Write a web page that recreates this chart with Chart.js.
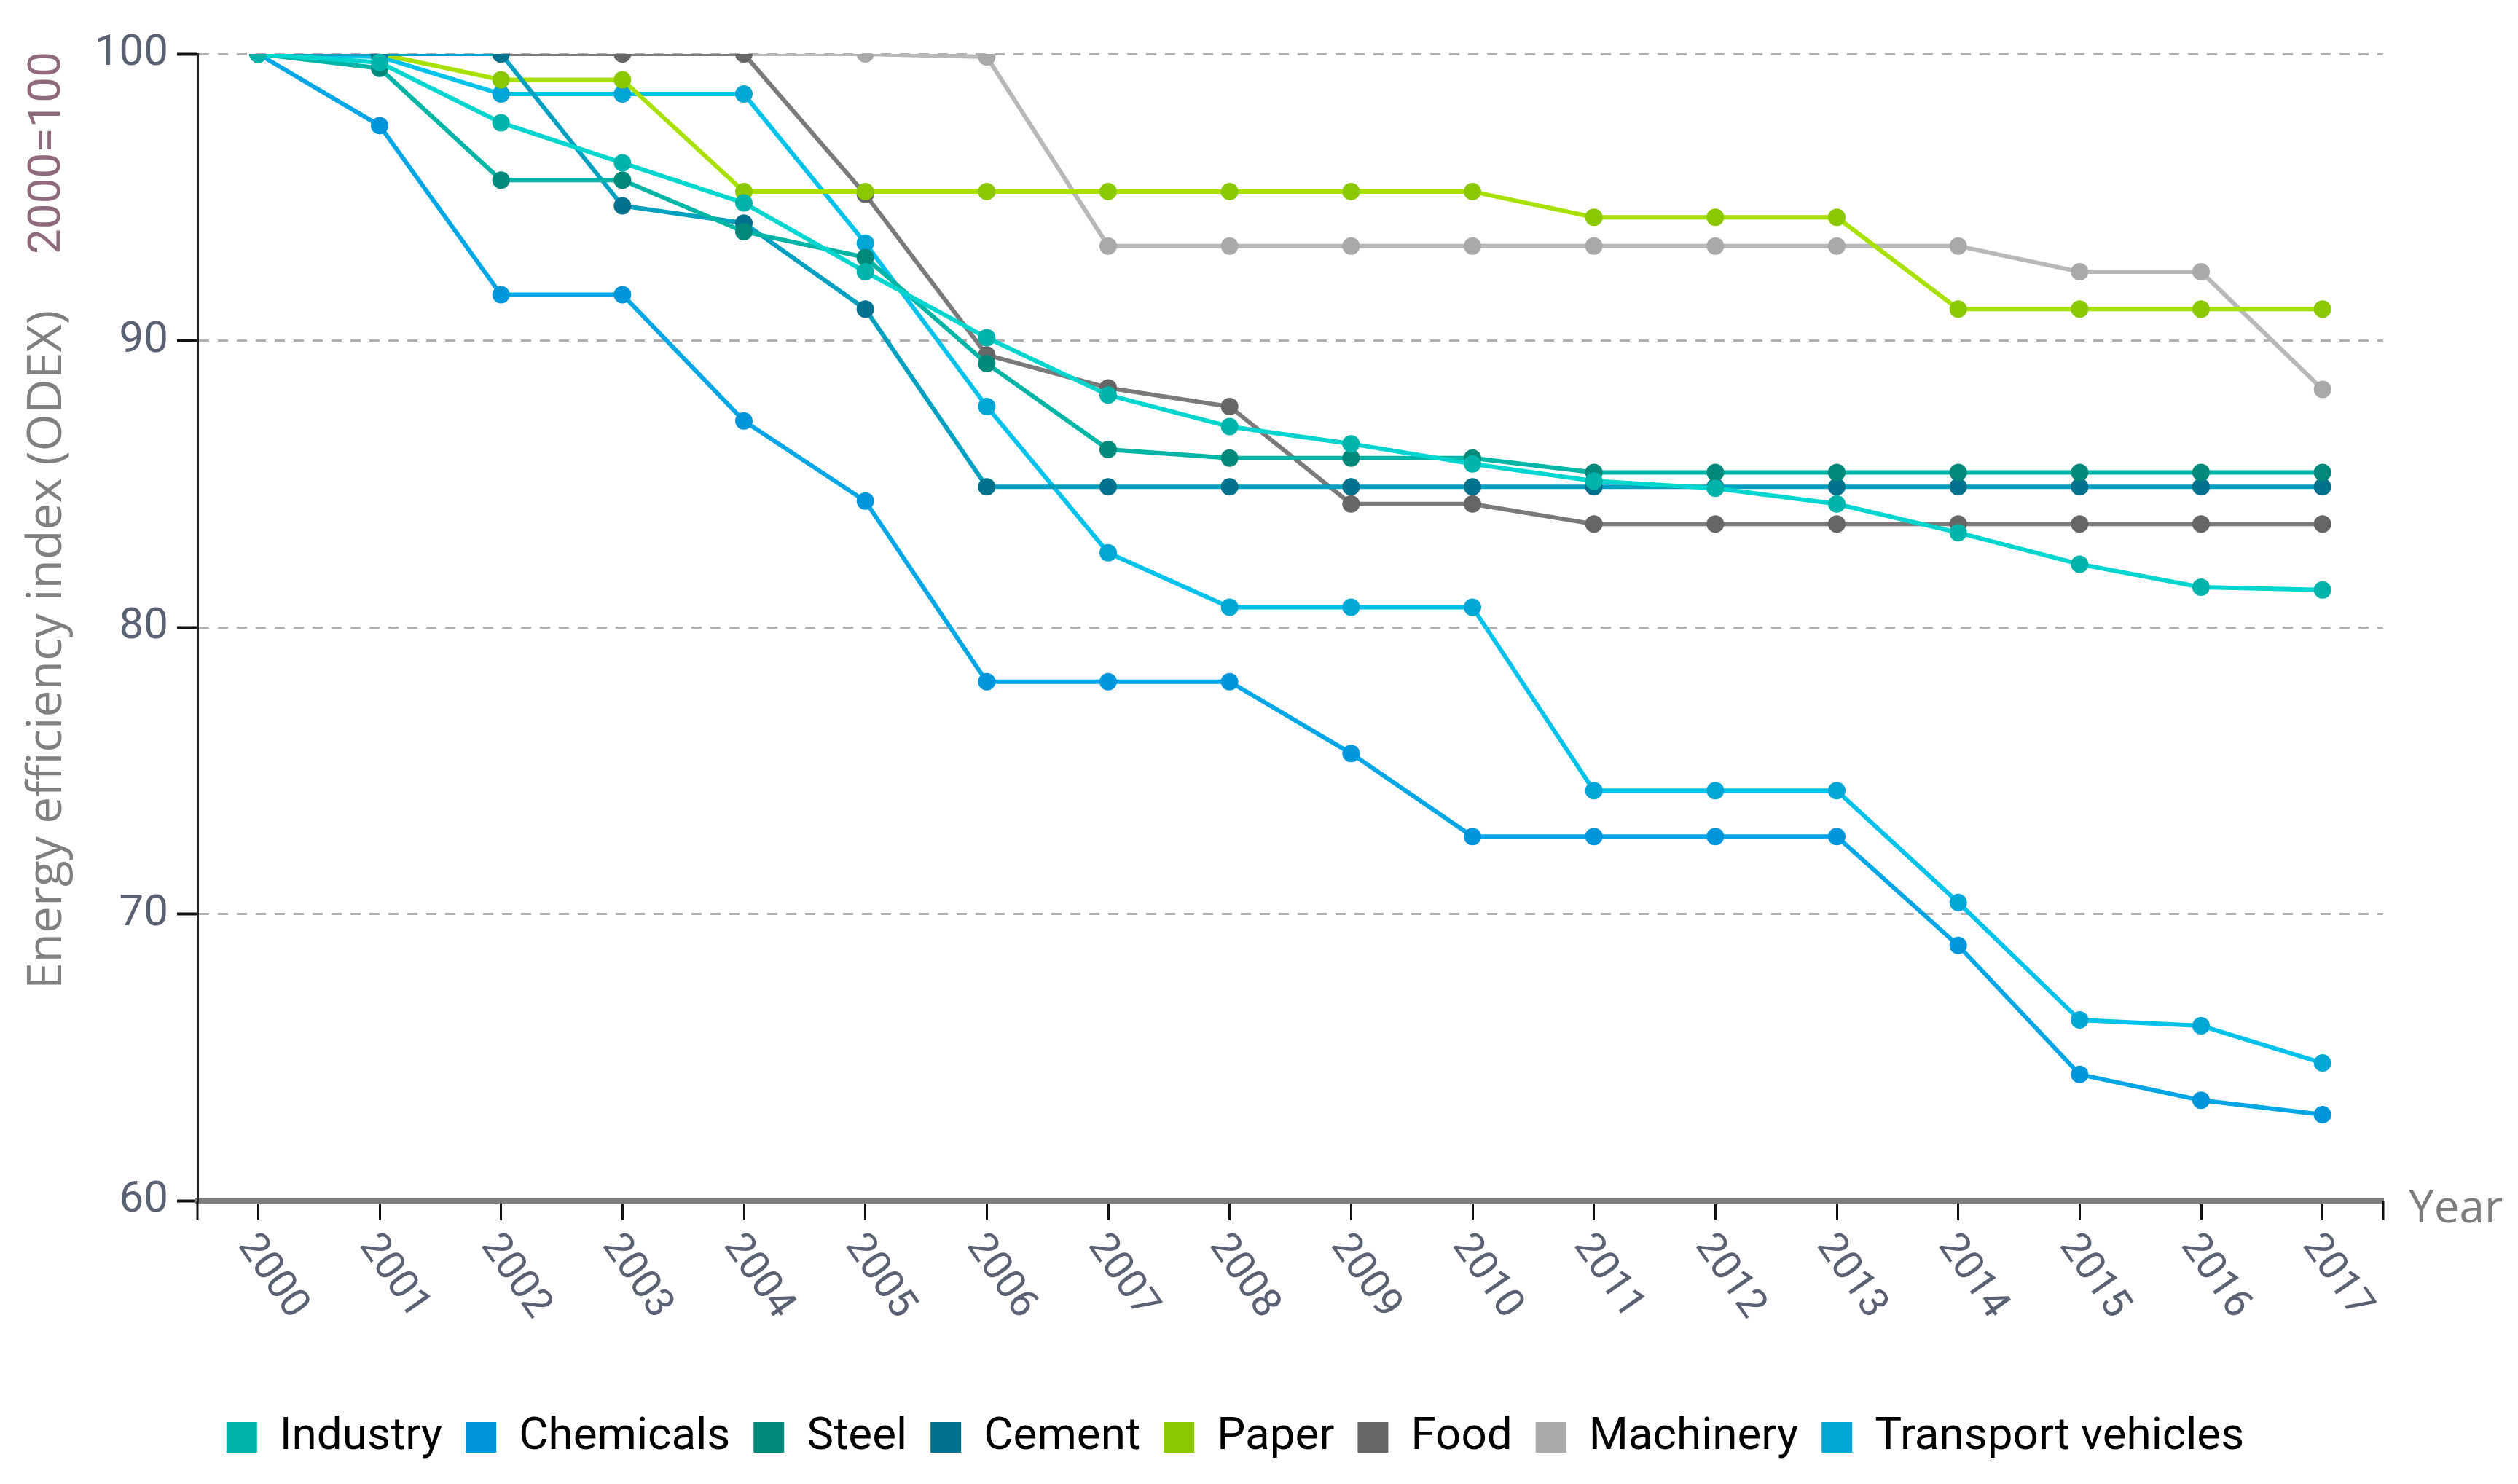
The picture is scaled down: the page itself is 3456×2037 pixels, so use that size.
<!DOCTYPE html>
<html>
<head>
<meta charset="utf-8">
<title>ODEX by branch</title>
<script src="https://cdn.jsdelivr.net/npm/chart.js@4.4.1/dist/chart.umd.min.js"></script>
<style>
  html, body { margin: 0; padding: 0; background: #fff; }
  #wrap { width: 3456px; height: 2037px; }
</style>
</head>
<body>
<div id="wrap"><canvas id="odexChart"></canvas></div>
<script>
// ---- Data ----
const years = ['2000', '2001', '2002', '2003', '2004', '2005', '2006', '2007', '2008',
               '2009', '2010', '2011', '2012', '2013', '2014', '2015', '2016', '2017'];

const industry  = [100, 99.7, 97.6, 96.2, 94.8, 92.4, 90.1, 88.1, 87.0, 86.4, 85.7, 85.1, 84.85, 84.3, 83.3, 82.2, 81.4, 81.3];
const chemicals = [100, 97.5, 91.6, 91.6, 87.2, 84.4, 78.1, 78.1, 78.1, 75.6, 72.7, 72.7, 72.7, 72.7, 68.9, 64.4, 63.5, 63.0];
const steel     = [100, 99.5, 95.6, 95.6, 93.8, 92.9, 89.2, 86.2, 85.9, 85.9, 85.9, 85.4, 85.4, 85.4, 85.4, 85.4, 85.4, 85.4];
const cement    = [100, 100, 100, 94.7, 94.1, 91.1, 84.9, 84.9, 84.9, 84.9, 84.9, 84.9, 84.9, 84.9, 84.9, 84.9, 84.9, 84.9];
const paper     = [100, 100, 99.1, 99.1, 95.2, 95.2, 95.2, 95.2, 95.2, 95.2, 95.2, 94.3, 94.3, 94.3, 91.1, 91.1, 91.1, 91.1];
const food      = [100, 100, 100, 100, 100, 95.1, 89.5, 88.35, 87.7, 84.3, 84.3, 83.6, 83.6, 83.6, 83.6, 83.6, 83.6, 83.6];
const machinery = [100, 100, 100, 100, 100, 100, 99.9, 93.3, 93.3, 93.3, 93.3, 93.3, 93.3, 93.3, 93.3, 92.4, 92.4, 88.3];
const transport = [100, 99.9, 98.6, 98.6, 98.6, 93.4, 87.7, 82.6, 80.7, 80.7, 80.7, 74.3, 74.3, 74.3, 70.4, 66.3, 66.1, 64.8];

const yTicks = [60, 70, 80, 90, 100];

// ---- Series styling ----
const makeSeries = (label, values, lineColor, dotColor) => ({
   label: label,
   data: values,
   borderColor: lineColor,
   backgroundColor: dotColor,
   pointBackgroundColor: dotColor,
   pointBorderColor: dotColor,
   borderWidth: 6,
   pointRadius: 12,
   pointBorderWidth: 0,
   tension: 0,
   fill: false
});

const datasets = [
   makeSeries('Industry', industry, '#00d6cf', '#00b4ac'),
   makeSeries('Chemicals', chemicals, '#00a6e6', '#0096dc'),
   makeSeries('Steel', steel, '#00b5a5', '#00897b'),
   makeSeries('Cement', cement, '#00a0c0', '#00728d'),
   makeSeries('Paper', paper, '#a8e000', '#8cc800'),
   makeSeries('Food', food, '#7a7a7a', '#666666'),
   makeSeries('Machinery', machinery, '#b8b8b8', '#a9a9a9'),
   makeSeries('Transport vehicles', transport, '#00c2ea', '#00a6d6')
];

// ---- Extra text: rotated years, axis titles, "Year" ----
const extraText = {
   id: 'extraText',
   afterDraw(chart) {
      const { ctx, chartArea, scales: { x } } = chart;
      ctx.save();

      // edge ticks of the x axis
      ctx.strokeStyle = '#111';
      ctx.lineWidth = 3;
      [chartArea.left, chartArea.right].forEach(px => {
         ctx.beginPath();
         ctx.moveTo(px, chartArea.bottom);
         ctx.lineTo(px, chartArea.bottom + 27);
         ctx.stroke();
      });

      // year labels, rotated clockwise
      ctx.font = '56px Roboto';
      ctx.fillStyle = '#5a6172';
      ctx.textAlign = 'left';
      ctx.textBaseline = 'middle';
      years.forEach((yr, i) => {
         const px = x.getPixelForTick(i);
         ctx.save();
         ctx.translate(px - 17, x.top + 53);
         ctx.rotate(55 * Math.PI / 180);
         ctx.fillText(yr, 0, 0);
         ctx.restore();
      });

      // "Year" at the end of the x axis
      ctx.font = '62px "Open Sans"';
      ctx.fillStyle = '#7d7d7d';
      ctx.fillText('Year', chartArea.right + 35, chartArea.bottom + 12);

      // y axis titles
      ctx.save();
      ctx.translate(84, 892);
      ctx.rotate(-Math.PI / 2);
      ctx.textAlign = 'center';
      ctx.textBaseline = 'alphabetic';
      ctx.font = '66px "Open Sans"';
      ctx.fillStyle = '#808080';
      ctx.fillText('Energy efficiency index (ODEX)', 0, 0);
      ctx.restore();

      ctx.save();
      ctx.translate(82, 210);
      ctx.rotate(-Math.PI / 2);
      ctx.textAlign = 'center';
      ctx.textBaseline = 'alphabetic';
      ctx.font = '62px Roboto';
      ctx.fillStyle = '#8e6a7c';
      ctx.fillText('2000=100', 0, 0);
      ctx.restore();

      ctx.restore();
   }
};

// ---- Chart ----
const ctx = document.querySelector('#odexChart');

const config = {
   type: 'line',
   data: { labels: years, datasets: datasets },
   options: {
      responsive: true,
      maintainAspectRatio: false,
      animation: false,
      layout: { padding: { left: 120, right: 185, top: 74, bottom: 23 } },
      scales: {
         x: {
            type: 'category',
            offset: true,
            ticks: { display: false },
            grid: {
               drawOnChartArea: false,
               drawTicks: true,
               tickLength: 27,
               tickColor: '#111',
               tickWidth: 3
            },
            border: { color: '#7d7d7d', width: 8 },
            afterFit: scale => { scale.height = 262; }
         },
         y: {
            min: 60,
            max: 100,
            afterBuildTicks: scale => { scale.ticks = yTicks.map(v => ({ value: v })); },
            ticks: {
               font: { family: 'Roboto', size: 60 },
               color: '#5a6172',
               padding: 12
            },
            grid: {
               color: c => (c.tick && c.tick.value === 60) ? 'rgba(0,0,0,0)' : '#b0b0b0',
               lineWidth: 3,
               tickLength: 28,
               tickColor: '#111',
               tickWidth: 4
            },
            border: { color: '#222', width: 3, dash: [14, 12] },
            afterFit: scale => { scale.width = 151; }
         }
      },
      plugins: {
         legend: {
            position: 'bottom',
            labels: {
               font: { family: 'Roboto', size: 62 },
               color: '#5f6470',
               boxWidth: 42,
               boxHeight: 42,
               padding: 32,
               generateLabels: chart => chart.data.datasets.map((ds, i) => ({
                  text: ds.label,
                  fillStyle: ds.pointBackgroundColor,
                  strokeStyle: ds.pointBackgroundColor,
                  lineWidth: 0,
                  hidden: false,
                  datasetIndex: i
               }))
            }
         },
         tooltip: { enabled: false }
      }
   },
   plugins: [extraText]
};

const odexChart = new Chart(ctx, config);
</script>
</body>
</html>
